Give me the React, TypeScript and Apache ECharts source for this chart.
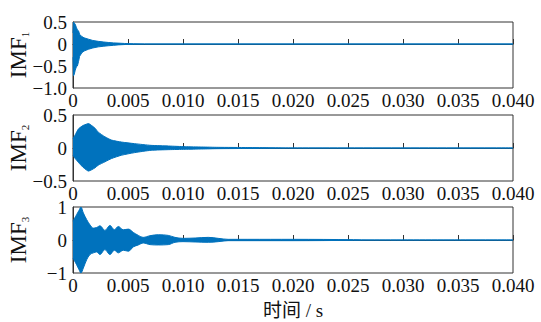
import React, { useEffect, useRef } from "react";
import * as echarts from "echarts";

// time in ms, envelope values
const imf1Time = [0, 0.05, 0.1, 0.2, 0.3, 0.4, 0.5, 0.6, 0.8, 1.0, 1.4, 1.8, 2.3, 2.8, 3.2, 3.7, 4.1, 4.7, 5.5, 6.5, 40];
const imf1Upper = [0.25, 0.5, 0.48, 0.45, 0.38, 0.32, 0.3, 0.22, 0.17, 0.14, 0.11, 0.08, 0.06, 0.045, 0.035, 0.025, 0.02, 0.012, 0.006, 0, 0];
const imf1Lower = [-0.3, -0.72, -0.7, -0.6, -0.52, -0.5, -0.4, -0.28, -0.2, -0.16, -0.12, -0.09, -0.065, -0.05, -0.04, -0.03, -0.02, -0.012, -0.006, 0, 0];

const imf2Time = [0, 0.2, 0.5, 0.9, 1.2, 1.4, 1.7, 2.0, 2.3, 2.9, 3.5, 4.4, 5.6, 7.1, 8.7, 10.2, 11.7, 13.2, 15.9, 18, 20, 40];
const imf2Upper = [0.14, 0.2, 0.29, 0.34, 0.36, 0.37, 0.34, 0.3, 0.24, 0.17, 0.12, 0.09, 0.066, 0.04, 0.03, 0.02, 0.015, 0.01, 0.007, 0.004, 0, 0];
const imf2Lower = [-0.11, -0.16, -0.22, -0.29, -0.33, -0.35, -0.33, -0.3, -0.26, -0.21, -0.16, -0.11, -0.07, -0.035, -0.025, -0.02, -0.015, -0.01, -0.007, -0.004, 0, 0];

const imf3Time = [0, 0.33, 0.55, 0.72, 0.94, 1.24, 1.54, 1.85, 2.15, 2.45, 2.9, 3.36, 3.76, 4.12, 4.57, 5.03, 5.48, 5.94, 6.39, 7.0, 7.76, 8.66, 9.27, 10.0, 11.1, 12.3, 13.2, 14.1, 15.9, 20, 25.5, 27, 40];
const imf3Upper = [0.57, 0.77, 0.9, 1.0, 0.82, 0.62, 0.46, 0.36, 0.38, 0.43, 0.29, 0.44, 0.31, 0.41, 0.31, 0.33, 0.23, 0.14, 0.08, 0.13, 0.16, 0.14, 0.08, 0.05, 0.06, 0.08, 0.05, 0.02, 0.02, 0.02, 0.01, 0, 0];
const imf3Lower = [-0.55, -0.75, -0.9, -1.0, -0.85, -0.6, -0.44, -0.39, -0.36, -0.44, -0.29, -0.44, -0.31, -0.39, -0.31, -0.34, -0.21, -0.15, -0.09, -0.14, -0.15, -0.14, -0.07, -0.05, -0.06, -0.07, -0.05, -0.02, -0.02, -0.02, -0.01, 0, 0];

const xTicks = { min: 0, max: 0.04, interval: 0.005 };
const panelNames = ["1", "2", "3"];
const yRanges = [
  { min: -1, max: 0.5, interval: 0.5, digits: 1 },
  { min: -0.5, max: 0.5, interval: 0.5, digits: 1 },
  { min: -1, max: 1, interval: 1, digits: 0 },
];
const xName = "时间 / s";

const FONT = '"Liberation Serif", "Times New Roman", "Noto Sans CJK SC", serif';
const BLUE = "#0072BD";
const AXIS = "#333";

export default function App() {
  const ref = useRef<HTMLDivElement>(null);
  useEffect(() => {
    if (!ref.current) return;
    const chart = echarts.init(ref.current, undefined, { renderer: "svg" });
    const tops = [22, 115, 207];
    const sets = [
      [imf1Time, imf1Upper, imf1Lower],
      [imf2Time, imf2Upper, imf2Lower],
      [imf3Time, imf3Upper, imf3Lower],
    ];
    const smooths = [0, 0.2, 0.35];
    const grids = tops.map((t) => ({
      left: 73,
      top: t,
      width: 440,
      height: 66,
      outerBoundsMode: "none",
      containLabel: false,
      show: true,
      borderColor: AXIS,
      borderWidth: 1,
      backgroundColor: "transparent",
    }));
    const xAxes = tops.map((_, i) => ({
      type: "value",
      gridIndex: i,
      min: xTicks.min,
      max: xTicks.max,
      interval: xTicks.interval,
      splitLine: { show: false },
      axisLine: { show: true, lineStyle: { color: AXIS, width: 1 } },
      axisTick: { show: true, inside: true, length: 5, lineStyle: { color: AXIS } },
      axisLabel: {
        color: "#111",
        fontFamily: FONT,
        fontSize: 19,
        margin: 3,
        formatter: (v: number) => (v === 0 ? "0" : v.toFixed(3)),
      },
      name: i === 2 ? xName : "",
      nameLocation: "middle",
      nameGap: 28,
      nameMoveOverlap: false,
      nameTextStyle: { color: "#111", fontFamily: FONT, fontSize: 19 },
    }));
    const yAxes = yRanges.map((r, i) => ({
      type: "value",
      gridIndex: i,
      min: r.min,
      max: r.max,
      interval: r.interval,
      splitLine: { show: false },
      axisLine: { show: true, onZero: false, lineStyle: { color: AXIS, width: 1 } },
      axisTick: { show: false },
      axisLabel: {
        color: "#111",
        fontFamily: FONT,
        fontSize: 19,
        margin: 6,
        formatter: (v: number) =>
          v === 0 ? "0" : (v < 0 ? "\u2212" : "") + Math.abs(v).toFixed(r.digits),
      },
      name: "{a|IMF}{b|" + panelNames[i] + "}",
      nameLocation: "middle",
      nameGap: 43,
      nameMoveOverlap: false,
      nameTextStyle: {
        rich: {
          a: { fontFamily: FONT, fontSize: 23, color: "#111" },
          b: { fontFamily: FONT, fontSize: 11, color: "#111", verticalAlign: "bottom" },
        },
      },
    }));
    const series: any[] = [];
    sets.forEach(([tt, up, lo], i) => {
      [up, lo].forEach((vals) => {
        series.push({
          type: "line",
          xAxisIndex: i,
          yAxisIndex: i,
          data: tt.map((t, k) => [t / 1000, vals[k]]),
          showSymbol: false,
          smooth: smooths[i],
          lineStyle: { color: BLUE, width: 1 },
          areaStyle: { color: BLUE, opacity: 1 },
          itemStyle: { color: BLUE },
          z: 2,
        });
      });
    });
    chart.setOption({
      animation: false,
      backgroundColor: "#fff",
      grid: grids,
      xAxis: xAxes,
      yAxis: yAxes,
      series,
    });
    return () => chart.dispose();
  }, []);
  return (
    <div
      ref={ref}
      style={{ position: "fixed", left: 0, top: 0, width: 541, height: 322 }}
    />
  );
}
